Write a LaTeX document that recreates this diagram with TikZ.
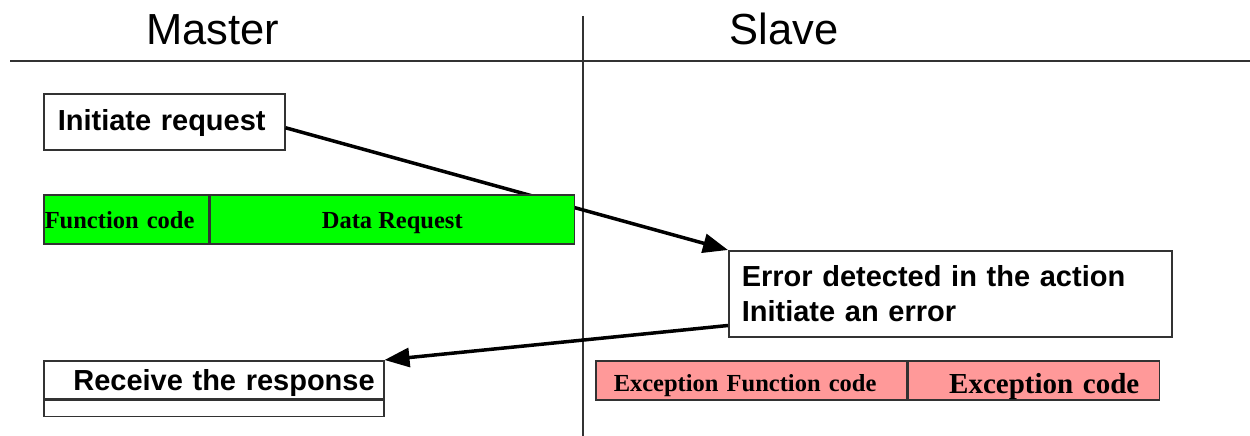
\documentclass[tikz,border=0pt]{standalone}
\usepackage{fontspec}
\setmainfont{Liberation Serif}
\setsansfont{Liberation Sans}
\usetikzlibrary{positioning,arrows.meta}

\definecolor{reqgreen}{RGB}{0,255,0}
\definecolor{errpink}{RGB}{255,153,153}
\definecolor{rulegray}{RGB}{50,50,50}

\begin{document}
\begin{tikzpicture}[x=1pt,y=-1pt,
    box/.style={draw=rulegray, line width=1.5pt, inner ysep=0pt, anchor=north west},
    msg/.style={box, font=\sffamily\bfseries\fontsize{29}{35}\selectfont},
    field/.style={box, font=\bfseries\fontsize{24.5}{30}\selectfont, text height=34pt, text depth=15pt},
    flow/.style={line width=3.5pt, -{Triangle[length=25pt,width=19pt]}}]

    \useasboundingbox (0,0) rectangle (1250,436);

    \coordinate (ruleW) at (10,61);
    \coordinate (ruleE) at (1250,61);
    \coordinate (splitT) at (583,16);
    \coordinate (splitB) at (583,436);
    \draw [rulegray, line width=1.5pt] (ruleW) -- (ruleE);
    \draw [rulegray, line width=1.5pt] (splitT) -- (splitB);

    \node (master) at (213,45) [anchor=base, font=\sffamily\fontsize{43.5}{50}\selectfont] {Master};
    \node (slave)  at (784,45) [anchor=base, font=\sffamily\fontsize{43.5}{50}\selectfont] {Slave};

    \node (init) at (43,93) [msg, inner xsep=14pt, text width=213pt, align=left,
        text height=37pt, text depth=19pt] {Initiate request};
    \node (err) at (728,250) [msg, inner xsep=13pt, text width=417pt, align=left,
        minimum height=86pt] {Error detected in the action\\Initiate an error};

    \draw [flow] ([yshift=-6pt]init.east) -- (err.north west);

    % request frame
    \node (fc) at (43,194) [field, fill=reqgreen, inner xsep=1pt, text width=163pt, align=left] {Function code};
    \node (dr) [field, fill=reqgreen, inner xsep=0pt, minimum width=364pt, right=0pt of fc] {Data Request};

    \node (recv) at (43,360) [msg, inner xsep=9pt, text width=322pt, align=right,
        text height=30pt, text depth=8pt] {Receive the response};
    \node (recvpad) [box, inner xsep=0pt, minimum width=340pt, text height=16pt, text depth=0pt,
        below=0pt of recv] {};

    \draw [flow] ([yshift=12pt]err.south west) -- (recv.north east);

    % exception frame
    \node (efc) at (595,360) [field, fill=errpink, inner xsep=18pt, text width=275pt, align=left,
        text height=31pt, text depth=8pt] {Exception Function code};
    \node (ec) [field, fill=errpink, inner xsep=20pt, text width=211pt, align=right,
        font=\bfseries\fontsize{29}{35}\selectfont, text height=33pt, text depth=6pt,
        right=0pt of efc] {Exception code};
\end{tikzpicture}
\end{document}
